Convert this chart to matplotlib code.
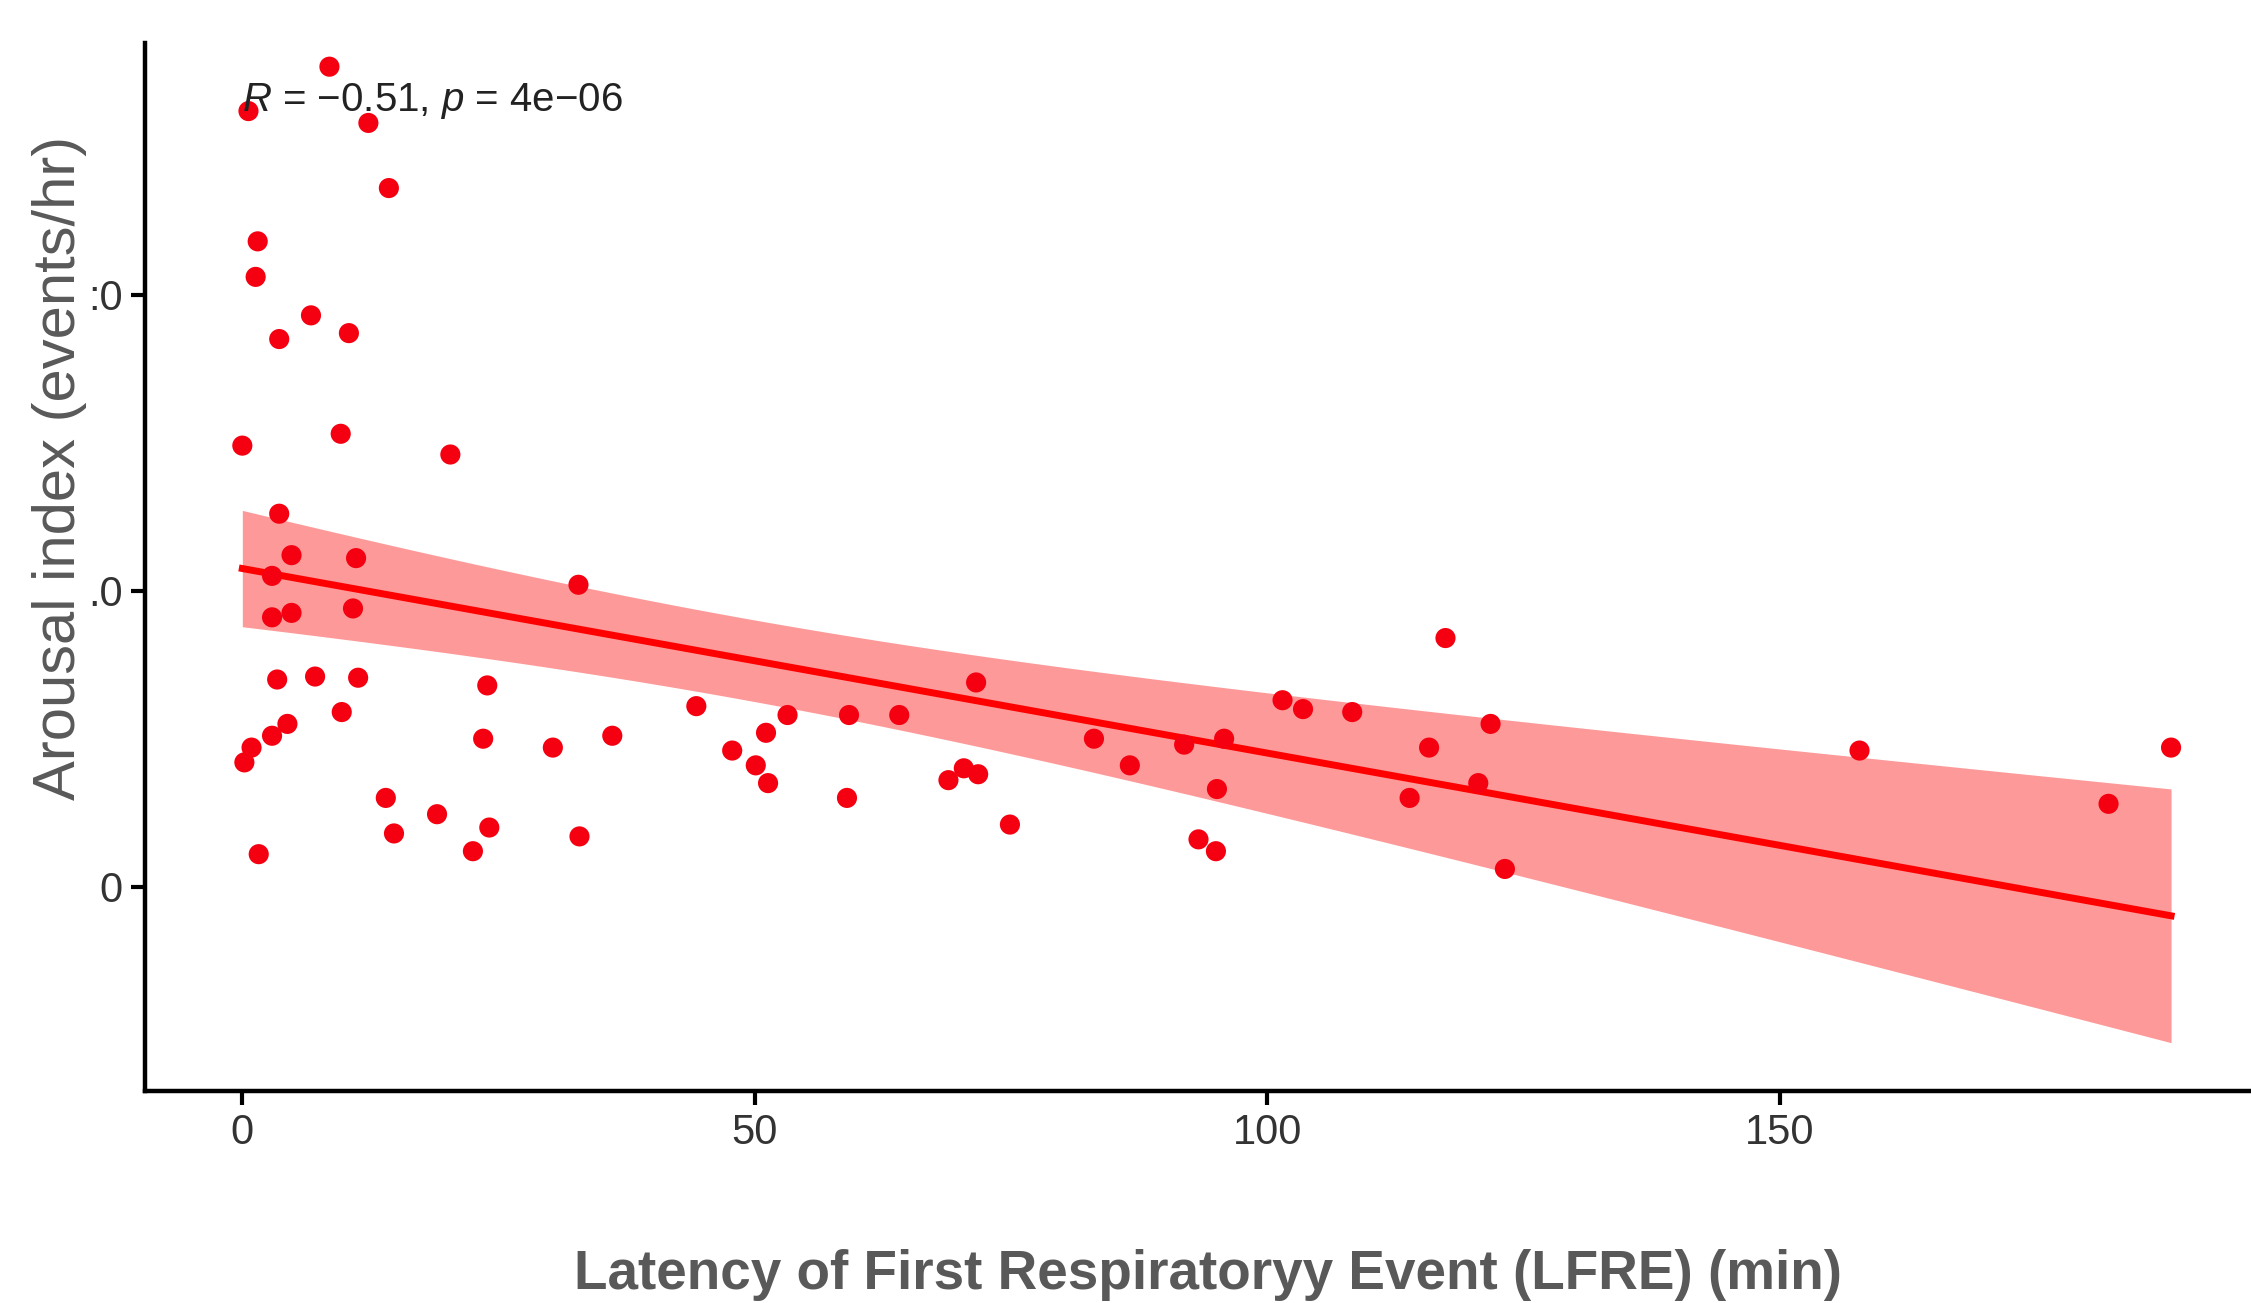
import numpy as np
import matplotlib
matplotlib.use("Agg")
import matplotlib.pyplot as plt

# ---------------- DATA ----------------
# latency of first respiratory event (min)
lfre = [8.5, 0.6, 12.3, 14.3, 1.5, 1.3, 6.7, 3.6, 10.4, 0.0,
        9.6, 20.3, 3.6, 4.8, 11.1, 2.9, 32.8, 2.9, 4.8, 10.8,
        117.4, 3.4, 7.1, 11.3, 23.9, 71.6, 44.3, 101.5, 103.5, 108.3,
        9.7, 4.4, 53.2, 59.2, 64.1, 121.8, 2.9, 51.1, 23.5, 36.1,
        83.1, 95.8, 30.3, 47.8, 91.9, 115.8, 157.8, 188.2, 0.9, 0.2,
        50.1, 70.4, 71.8, 86.6, 68.9, 51.3, 120.6, 95.1, 14.0, 59.0,
        113.9, 182.1, 19.0, 24.1, 74.9, 14.8, 32.9, 93.3, 1.6, 22.5,
        95.0, 123.2]

# arousal index (events/hr)
arousal = [27.7, 26.2, 25.8, 23.6, 21.8, 20.6, 19.3, 18.5, 18.7, 14.9,
           15.3, 14.6, 12.6, 11.2, 11.1, 10.5, 10.2, 9.1, 9.25, 9.4,
           8.4, 7.0, 7.1, 7.06, 6.8, 6.9, 6.1, 6.3, 6.0, 5.9,
           5.9, 5.5, 5.8, 5.8, 5.8, 5.5, 5.1, 5.2, 5.0, 5.1,
           5.0, 5.0, 4.7, 4.6, 4.8, 4.7, 4.6, 4.7, 4.7, 4.2,
           4.1, 4.0, 3.8, 4.1, 3.6, 3.5, 3.5, 3.3, 3.0, 3.0,
           3.0, 2.8, 2.45, 2.0, 2.1, 1.8, 1.7, 1.6, 1.1, 1.2,
           1.2, 0.6]

x_ticks = [0, 50, 100, 150]
x_tick_labels = ["0", "50", "100", "150"]
y_ticks = [0, 10, 20]
y_tick_labels = ["0", ".0", ":0"]   # partly erased in the source picture

annotation = r"$\it{R}$ = $-$0.51, $\it{p}$ = 4e$-$06"

# ---------------- FONTS ----------------
plt.rcParams['font.family'] = ['Liberation Sans', 'DejaVu Sans']
plt.rcParams['mathtext.fontset'] = 'custom'
plt.rcParams['mathtext.rm'] = 'Liberation Sans'
plt.rcParams['mathtext.it'] = 'Liberation Sans:italic'

# ---------------- LINEAR FIT + 95% CI ----------------
x = np.array(lfre)
y = np.array(arousal)
n = len(x)
slope, intercept = np.polyfit(x, y, 1)
resid = y - (slope * x + intercept)
s_err = np.sqrt(np.sum(resid ** 2) / (n - 2))
sxx = np.sum((x - x.mean()) ** 2)
t_val = 1.994  # t(0.975, df ~ 70)

xs = np.linspace(x.min(), x.max(), 200)
ys = slope * xs + intercept
half = t_val * s_err * np.sqrt(1 / n + (xs - x.mean()) ** 2 / sxx)

# ---------------- PLOT ----------------
fig = plt.figure(figsize=(22.51, 13.03), dpi=100)
ax = fig.add_axes([0.0644, 0.1627, 0.9356, 0.8043])

ax.fill_between(xs, ys - half, ys + half, color='#fe9999', lw=0, zorder=1)
ax.plot(xs, ys, color='#ff0000', lw=5, zorder=2)
ax.scatter(x, y, s=210, color='#f50010', edgecolors='none', zorder=3)

ax.set_xlim(-9.5, 196)
ax.set_ylim(-6.9, 28.5)

ax.set_xticks(x_ticks)
ax.set_xticklabels(x_tick_labels)
ax.set_yticks(y_ticks)
ax.set_yticklabels(y_tick_labels)
ax.tick_params(axis='both', length=10, width=3, labelsize=30,
               labelcolor='#333333', color='black', pad=6)

for side in ['top', 'right']:
    ax.spines[side].set_visible(False)
for side in ['left', 'bottom']:
    ax.spines[side].set_linewidth(3.2)
    ax.spines[side].set_color('black')

ax.text(0, 26.55, annotation, fontsize=29, color='#222222',
        ha='left', va='center', zorder=4)

fig.text(60 / 2251, 1 - 468 / 1303, "Arousal index (events/hr)",
         rotation=90, ha='center', va='center', fontsize=43, color='#595959')
fig.text(1208 / 2251, 1 - 1275 / 1303,
         "Latency of First Respiratoryy Event (LFRE) (min)",
         ha='center', va='center', fontsize=39.5, fontweight='bold',
         color='#595959')

fig.savefig("out.png", dpi=100)
